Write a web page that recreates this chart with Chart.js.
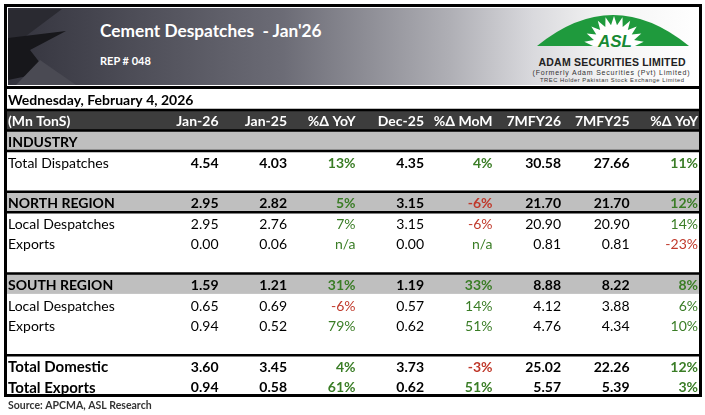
<!DOCTYPE html>
<html>
<head>
<meta charset="utf-8">
<script src="https://cdn.jsdelivr.net/npm/chart.js@4.4.1/dist/chart.umd.min.js"></script>
<style>
  body { margin: 0; background: #fff; font-family: Lato, 'Noto Sans', sans-serif; }
  #wrap { position: relative; width: 705px; height: 415px; overflow: hidden; }
  #myChart { position: absolute; left: 0; top: 0; }
  #banner {
    position: absolute; left: 4px; top: 4px; width: 698px; height: 85px; box-sizing: border-box;
    border: 3px solid #000; box-shadow: inset 0 0 0 1px #fff;
    background: linear-gradient(90deg, #33333d 0%, #6c6c76 40%, #afafb5 64%, #d9d9dd 76%, #f3f3f3 86%, #fff 100%);
  }
  #logo { position: absolute; left: 0; top: 0; }
  #title { position: absolute; left: 100px; top: 20px; color: #fff; font-weight: bold; font-size: 17.3px; }
  #rep { position: absolute; left: 100px; top: 54px; color: #fff; font-weight: bold; font-size: 11px; }
</style>
</head>
<body>
<div id="wrap">
  <canvas id="myChart" width="705" height="415"></canvas>
  <div id="banner"></div>
  <svg id="logo" width="705" height="90">
    <!-- 왼쪽 어두운 조각들 -->
    <polygon points="8,10 62,9 26,36 8,44" fill="#2a2a31"/>
    <polygon points="8,38 66,31 30,50 47,72 8,80" fill="#17171b"/>
    <polygon points="16,85 40,60 76,85" fill="#4a4a53"/>
    <!-- 로고 -->
    <path d="M537,46 Q613,-16 689,46 Z" fill="#1f9a3d"/>
    <polygon id="burst" fill="#fff"/>
    <text x="615" y="47" text-anchor="middle" font-family="Liberation Sans" font-weight="bold" font-style="italic" font-size="17" fill="#178a34" textLength="34" lengthAdjust="spacingAndGlyphs">ASL</text>
    <text x="612" y="66" text-anchor="middle" font-family="Liberation Sans" font-weight="bold" font-size="10.5" fill="#222" textLength="147">ADAM SECURITIES LIMITED</text>
    <text x="611" y="74.5" text-anchor="middle" font-family="Liberation Sans" font-size="7" fill="#333" textLength="157">(Formerly  Adam Securities (Pvt) Limited)</text>
    <text x="612" y="82" text-anchor="middle" font-family="Liberation Sans" font-size="5.8" fill="#333" textLength="144">TREC Holder Pakistan Stock Exchange Limited</text>
  </svg>
  <div id="title">Cement Despatches&nbsp; - Jan'26</div>
  <div id="rep">REP # 048</div>
</div>

<script>
// 표 데이터
const reportDate = 'Wednesday, February 4, 2026';
const unitLabel = '(Mn TonS)';
const columns = ['Jan-26', 'Jan-25', '%Δ YoY', 'Dec-25', '%Δ MoM', '7MFY26', '7MFY25', '%Δ YoY'];
const rowLabels = ['INDUSTRY', 'Total Dispatches', '', 'NORTH REGION', 'Local Despatches', 'Exports', '',
  'SOUTH REGION', 'Local Despatches', 'Exports', '', 'Total Domestic', 'Total Exports'];

const jan26 = [null, 4.54, null, 2.95, 2.95, 0.00, null, 1.59, 0.65, 0.94, null, 3.60, 0.94];
const jan25 = [null, 4.03, null, 2.82, 2.76, 0.06, null, 1.21, 0.69, 0.52, null, 3.45, 0.58];
const yoyPct = [null, 13, null, 5, 7, 'n/a', null, 31, -6, 79, null, 4, 61];
const dec25 = [null, 4.35, null, 3.15, 3.15, 0.00, null, 1.19, 0.57, 0.62, null, 3.73, 0.62];
const momPct = [null, 4, null, -6, -6, 'n/a', null, 33, 14, 51, null, -3, 51];
const fy26 = [null, 30.58, null, 21.70, 20.90, 0.81, null, 8.88, 4.12, 4.76, null, 25.02, 5.57];
const fy25 = [null, 27.66, null, 21.70, 20.90, 0.81, null, 8.22, 3.88, 4.34, null, 22.26, 5.39];
const fyYoyPct = [null, 11, null, 12, 14, -23, null, 8, 6, 10, null, 12, 3];

const sourceNote = 'Source: APCMA, ASL Research';

// 열 순서대로 묶기
const columnData = [jan26, jan25, yoyPct, dec25, momPct, fy26, fy25, fyYoyPct];
const pctColumns = [2, 4, 7];

// 스타일
const FONT = 'Lato, "Noto Sans", sans-serif';
const GREEN = '#3a7d26';
const RED = '#c0392b';
const isSection = l => l !== '' && l === l.toUpperCase();
const boldLabels = ['Total Domestic', 'Total Exports'];
const boldValues = l => isSection(l) || l.startsWith('Total');
const ruleAbove = ['NORTH REGION', 'SOUTH REGION', 'Total Domestic'];
const ruleBelow = ['INDUSTRY', 'NORTH REGION'];

// 로고 별 모양
(function () {
  const cx = 614, cy = 46, n = 11, pts = [];
  for (let k = 0; k <= 2 * n; k++) {
    const a = Math.PI + k * Math.PI / (2 * n);
    const r = k % 2 ? 30 : 21;
    pts.push((cx + r * Math.cos(a)).toFixed(1) + ',' + (cy + r * Math.sin(a)).toFixed(1));
  }
  document.getElementById('burst').setAttribute('points', pts.join(' '));
})();

// 표 그리는 플러그인 (스케일 기준)
const tablePlugin = {
  id: 'table',
  afterDraw(chart) {
    const c = chart.ctx;
    const x = chart.scales.x, y = chart.scales.y;
    const area = chart.chartArea;
    const pitch = Math.abs(y.getPixelForValue(1) - y.getPixelForValue(0));
    const colW = Math.abs(x.getPixelForValue(1) - x.getPixelForValue(0));
    const L = 5, R = 701;
    const rowTop = i => y.getPixelForValue(i) - pitch / 2;

    c.save();
    // 섹션 행 배경
    rowLabels.forEach((l, i) => {
      if (isSection(l)) {
        c.fillStyle = '#bfbfbf';
        c.fillRect(L, rowTop(i), R - L, pitch);
      }
    });
    // 헤더 행
    const hTop = area.top - pitch;
    c.fillStyle = '#3d3d3d';
    c.fillRect(L, hTop, R - L, pitch);

    c.strokeStyle = '#000';
    c.lineWidth = 2.5;
    const hline = yy => { c.beginPath(); c.moveTo(L, yy); c.lineTo(R, yy); c.stroke(); };
    hline(hTop);
    hline(area.top);
    rowLabels.forEach((l, i) => {
      if (ruleAbove.includes(l)) hline(rowTop(i));
      if (ruleBelow.includes(l)) hline(rowTop(i) + pitch);
    });

    c.textBaseline = 'middle';
    // 날짜
    c.fillStyle = '#000';
    c.textAlign = 'left';
    c.font = 'bold 14px ' + FONT;
    c.fillText(reportDate, 8, hTop - pitch / 2 + 1);

    // 헤더 텍스트
    c.fillStyle = '#fff';
    c.fillText(unitLabel, 8, hTop + pitch / 2 + 1);
    c.textAlign = 'right';
    columns.forEach((h, j) => {
      c.fillText(h, x.getPixelForValue(j) + colW / 2 - 2, hTop + pitch / 2 + 1);
    });

    // 행
    rowLabels.forEach((l, i) => {
      const yy = y.getPixelForValue(i) + 2;
      const bl = isSection(l) || boldLabels.includes(l);
      c.textAlign = 'left';
      c.fillStyle = '#000';
      c.font = (bl ? 'bold ' : '') + (boldLabels.includes(l) ? '15px ' : '14px ') + FONT;
      c.fillText(l, 8, yy);
      const bv = boldValues(l);
      c.textAlign = 'right';
      columnData.forEach((arr, j) => {
        const v = arr[i];
        if (v === null || v === undefined) return;
        let txt, col = '#000';
        if (pctColumns.includes(j)) {
          txt = typeof v === 'number' ? v + '%' : v;
          col = typeof v === 'number' && v < 0 ? RED : GREEN;
        } else {
          txt = v.toFixed(2);
        }
        c.fillStyle = col;
        c.font = (bv ? 'bold ' : '') + '14px ' + FONT;
        c.fillText(txt, x.getPixelForValue(j) + colW / 2 - 2, yy);
      });
    });

    // 바깥 테두리
    c.lineWidth = 3;
    c.beginPath();
    c.moveTo(5.5, 86); c.lineTo(5.5, 395.5); c.lineTo(700.5, 395.5); c.lineTo(700.5, 86);
    c.stroke();

    // 출처
    c.textAlign = 'left';
    c.fillStyle = '#333';
    c.font = 'bold 10.5px ' + FONT;
    c.fillText(sourceNote, 8, 406);
    c.restore();
  }
};

const ctx = document.getElementById('myChart').getContext('2d');
const myChart = new Chart(ctx, {
  type: 'bar',
  data: { labels: columns, datasets: [] },
  options: {
    responsive: false,
    animation: false,
    layout: { padding: { left: 152, right: 5, top: 130.5, bottom: 19 } },
    plugins: { legend: { display: false }, tooltip: { enabled: false } },
    scales: {
      x: { type: 'category', labels: columns, offset: true, display: false },
      y: { type: 'category', labels: rowLabels, offset: true, display: false }
    }
  },
  plugins: [tablePlugin]
});
</script>
</body>
</html>
